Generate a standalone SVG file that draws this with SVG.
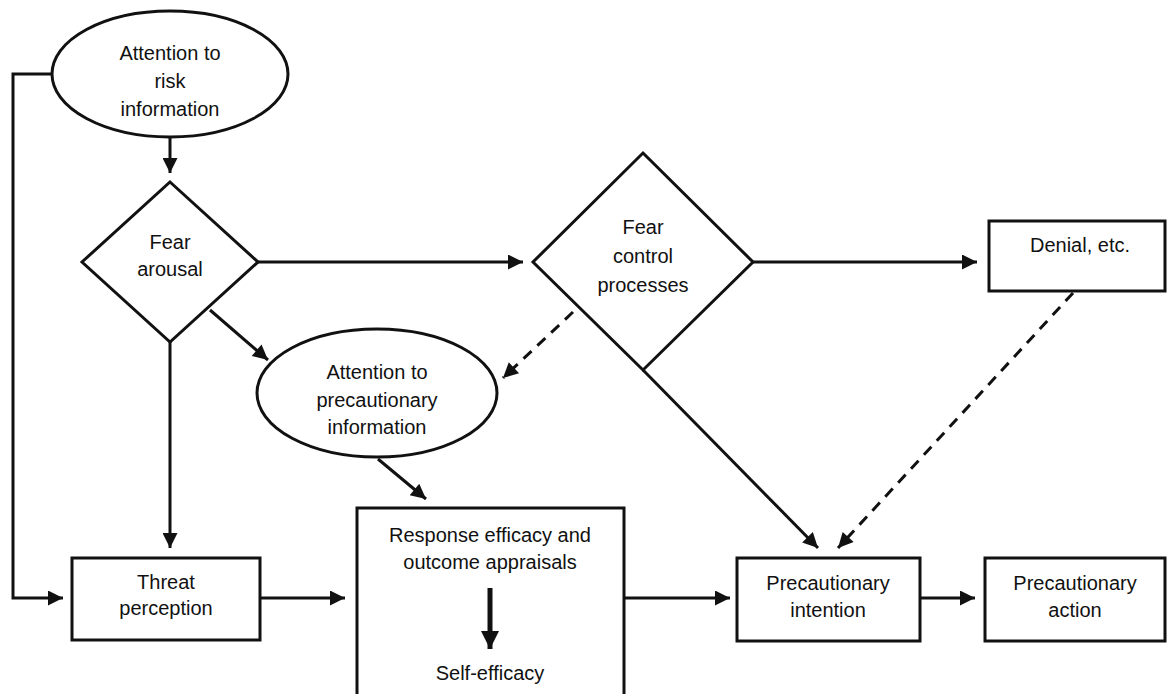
<svg xmlns="http://www.w3.org/2000/svg" width="1167" height="694" viewBox="0 0 1167 694">
<style>
  .shape { fill: #fff; stroke: #111; stroke-width: 3; }
  .lbl { font-family: "Liberation Sans", Arial, sans-serif; font-size: 20px; fill: #111; text-anchor: middle; }
  .conn { fill: none; stroke: #111; stroke-width: 3; }
  .dash { stroke-dasharray: 11 8; }
</style>
<defs>
  <marker id="arr" viewBox="0 0 10 10" refX="10" refY="5" markerWidth="17" markerHeight="15" markerUnits="userSpaceOnUse" orient="auto">
    <path d="M0,0 L10,5 L0,10 z" fill="#111"/>
  </marker>
  <marker id="arrBig" viewBox="0 0 10 10" refX="10" refY="5" markerWidth="24" markerHeight="18" markerUnits="userSpaceOnUse" orient="auto">
    <path d="M0,0 L10,5 L0,10 z" fill="#111"/>
  </marker>
</defs>
<rect width="1167" height="694" fill="#fff"/>

<g id="connectors">
  <polyline class="conn" points="51,74 13,74 13,598 63,598" marker-end="url(#arr)"/>
  <line class="conn" x1="170" y1="137" x2="170" y2="173" marker-end="url(#arr)"/>
  <line class="conn" x1="258" y1="262" x2="523" y2="262" marker-end="url(#arr)"/>
  <line class="conn" x1="753" y1="262" x2="977" y2="262" marker-end="url(#arr)"/>
  <line class="conn" x1="210" y1="310" x2="268" y2="360" marker-end="url(#arr)"/>
  <line class="conn" x1="170" y1="342" x2="170" y2="548" marker-end="url(#arr)"/>
  <line class="conn dash" x1="573" y1="312" x2="503" y2="378" marker-end="url(#arr)"/>
  <line class="conn" x1="643" y1="370" x2="818" y2="548" marker-end="url(#arr)"/>
  <line class="conn dash" x1="1073" y1="293" x2="838" y2="548" marker-end="url(#arr)"/>
  <line class="conn" x1="378" y1="459" x2="426" y2="499" marker-end="url(#arr)"/>
  <line class="conn" x1="260" y1="598" x2="345" y2="598" marker-end="url(#arr)"/>
  <line class="conn" x1="624" y1="598" x2="730" y2="598" marker-end="url(#arr)"/>
  <line class="conn" x1="920" y1="598" x2="975" y2="598" marker-end="url(#arr)"/>
</g>

<g id="attention-risk">
  <ellipse class="shape" cx="170" cy="74" rx="118" ry="63"/>
  <text class="lbl" x="170" y="60">Attention to</text>
  <text class="lbl" x="170" y="88">risk</text>
  <text class="lbl" x="170" y="116">information</text>
</g>

<g id="fear-arousal">
  <polygon class="shape" points="170,182 258,262 170,342 82,262"/>
  <text class="lbl" x="170" y="249">Fear</text>
  <text class="lbl" x="170" y="276">arousal</text>
</g>

<g id="fear-control">
  <polygon class="shape" points="643,153 753,262 643,370 533,262"/>
  <text class="lbl" x="643" y="234">Fear</text>
  <text class="lbl" x="643" y="263">control</text>
  <text class="lbl" x="643" y="292">processes</text>
</g>

<g id="denial">
  <rect class="shape" x="989" y="221" width="176" height="70"/>
  <text class="lbl" x="1080" y="252">Denial, etc.</text>
</g>

<g id="attention-precautionary">
  <ellipse class="shape" cx="377" cy="393" rx="120" ry="64"/>
  <text class="lbl" x="377" y="379">Attention to</text>
  <text class="lbl" x="377" y="407">precautionary</text>
  <text class="lbl" x="377" y="434">information</text>
</g>

<g id="threat-perception">
  <rect class="shape" x="72" y="558" width="188" height="82"/>
  <text class="lbl" x="166" y="589">Threat</text>
  <text class="lbl" x="166" y="615">perception</text>
</g>

<g id="response-efficacy">
  <rect class="shape" x="357" y="508" width="267" height="200"/>
  <text class="lbl" x="490" y="542">Response efficacy and</text>
  <text class="lbl" x="490" y="569">outcome appraisals</text>
  <line x1="490" y1="588" x2="490" y2="649" stroke="#111" stroke-width="5" marker-end="url(#arrBig)"/>
  <text class="lbl" x="490" y="680">Self-efficacy</text>
</g>

<g id="precautionary-intention">
  <rect class="shape" x="737" y="558" width="183" height="83"/>
  <text class="lbl" x="828" y="590">Precautionary</text>
  <text class="lbl" x="828" y="617">intention</text>
</g>

<g id="precautionary-action">
  <rect class="shape" x="985" y="558" width="180" height="83"/>
  <text class="lbl" x="1075" y="590">Precautionary</text>
  <text class="lbl" x="1075" y="617">action</text>
</g>
</svg>
